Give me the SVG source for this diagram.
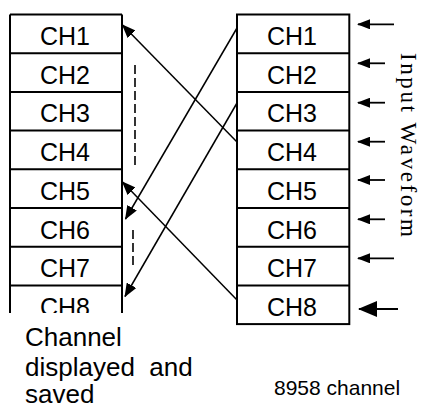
<svg xmlns="http://www.w3.org/2000/svg" width="423" height="409" viewBox="0 0 423 409">
<style>
  .box{fill:#fff;stroke:#000;stroke-width:2}
  .row{stroke:#000;stroke-width:2;fill:none}
  .ch{font-family:"Liberation Sans",Arial,sans-serif;font-size:25px;fill:#000;text-anchor:middle}
  .lbl{font-family:"Liberation Sans",Arial,sans-serif;fill:#000}
  .conn{stroke:#000;stroke-width:1.5;fill:none}
  .dash{stroke:#000;stroke-width:1.6;stroke-dasharray:9 4;fill:none}
  .inarr{stroke:#000;stroke-width:1.8;fill:none}
</style>
<defs>
  <marker id="ah" viewBox="0 0 14 11" refX="13" refY="5.5" markerWidth="14" markerHeight="11" markerUnits="userSpaceOnUse" orient="auto">
    <path d="M0,0 L14,5.5 L0,11 z" fill="#000"/>
  </marker>
  <marker id="ahs" viewBox="0 0 13 10" refX="12" refY="5" markerWidth="13" markerHeight="10" markerUnits="userSpaceOnUse" orient="auto">
    <path d="M0,0 L13,5 L0,10 z" fill="#000"/>
  </marker>
  <marker id="ahl" viewBox="0 0 19 16" refX="18" refY="8" markerWidth="19" markerHeight="16" markerUnits="userSpaceOnUse" orient="auto">
    <path d="M0,0 L19,8 L0,16 z" fill="#000"/>
  </marker>
  <clipPath id="leftclip"><rect x="0" y="0" width="200" height="313"/></clipPath>
</defs>

<g id="left-column" clip-path="url(#leftclip)">
  <path class="row" d="M10,14.5 H122 M10,53.2 H122 M10,91.9 H122 M10,130.6 H122 M10,169.3 H122 M10,208 H122 M10,246.7 H122 M10,285.4 H122 M10,14.5 V313 M122,14.5 V313"/>
  <text class="ch" x="65" y="45">CH1</text>
  <text class="ch" x="65" y="83.7">CH2</text>
  <text class="ch" x="65" y="122.4">CH3</text>
  <text class="ch" x="65" y="161.1">CH4</text>
  <text class="ch" x="65" y="199.8">CH5</text>
  <text class="ch" x="65" y="238.5">CH6</text>
  <text class="ch" x="65" y="277.2">CH7</text>
  <text class="ch" x="65" y="315.9">CH8</text>
</g>

<g id="right-column">
  <rect class="box" x="237" y="14.5" width="112.3" height="309.6"/>
  <path class="row" d="M237,53.2 H349.3 M237,91.9 H349.3 M237,130.6 H349.3 M237,169.3 H349.3 M237,208 H349.3 M237,246.7 H349.3 M237,285.4 H349.3"/>
  <text class="ch" x="292" y="45">CH1</text>
  <text class="ch" x="292" y="83.7">CH2</text>
  <text class="ch" x="292" y="122.4">CH3</text>
  <text class="ch" x="292" y="161.1">CH4</text>
  <text class="ch" x="292" y="199.8">CH5</text>
  <text class="ch" x="292" y="238.5">CH6</text>
  <text class="ch" x="292" y="277.2">CH7</text>
  <text class="ch" x="292" y="315.9">CH8</text>
</g>

<g id="connectors">
  <line class="conn" x1="237" y1="142" x2="122.5" y2="25" marker-end="url(#ah)"/>
  <line class="conn" x1="237" y1="28" x2="125.5" y2="219" marker-end="url(#ah)"/>
  <line class="conn" x1="237" y1="103" x2="125" y2="296.5" marker-end="url(#ah)"/>
  <line class="conn" x1="237" y1="300" x2="122.5" y2="182" marker-end="url(#ah)"/>
  <line class="dash" x1="135" y1="65" x2="135" y2="166"/>
  <line class="dash" x1="133" y1="230" x2="133" y2="267"/>
</g>

<g id="input-arrows">
  <line class="inarr" x1="394" y1="24.3" x2="358" y2="24.3" marker-end="url(#ahs)"/>
  <line class="inarr" x1="385" y1="63.3" x2="358" y2="63.3" marker-end="url(#ahs)"/>
  <line class="inarr" x1="385" y1="102.7" x2="358" y2="102.7" marker-end="url(#ahs)"/>
  <line class="inarr" x1="385" y1="141.7" x2="358" y2="141.7" marker-end="url(#ahs)"/>
  <line class="inarr" x1="385" y1="180" x2="358" y2="180" marker-end="url(#ahs)"/>
  <line class="inarr" x1="385" y1="219.3" x2="358" y2="219.3" marker-end="url(#ahs)"/>
  <line class="inarr" x1="394" y1="258.3" x2="358" y2="258.3" marker-end="url(#ahs)"/>
  <line class="inarr" x1="398" y1="309" x2="359" y2="309" marker-end="url(#ahl)"/>
</g>

<g id="input-label">
  <text transform="translate(401,53) rotate(90)" font-family="'Liberation Serif','Times New Roman',serif" font-size="23" textLength="184" lengthAdjust="spacing">Input Waveform</text>
</g>

<g id="left-label">
  <text class="lbl" font-size="26" xml:space="preserve"><tspan x="25" y="346">Channel</tspan><tspan x="25" y="375.5">displayed  and</tspan><tspan x="25" y="403">saved</tspan></text>
</g>

<g id="right-label">
  <text class="lbl" x="274" y="395" font-size="21">8958 channel</text>
</g>
</svg>
